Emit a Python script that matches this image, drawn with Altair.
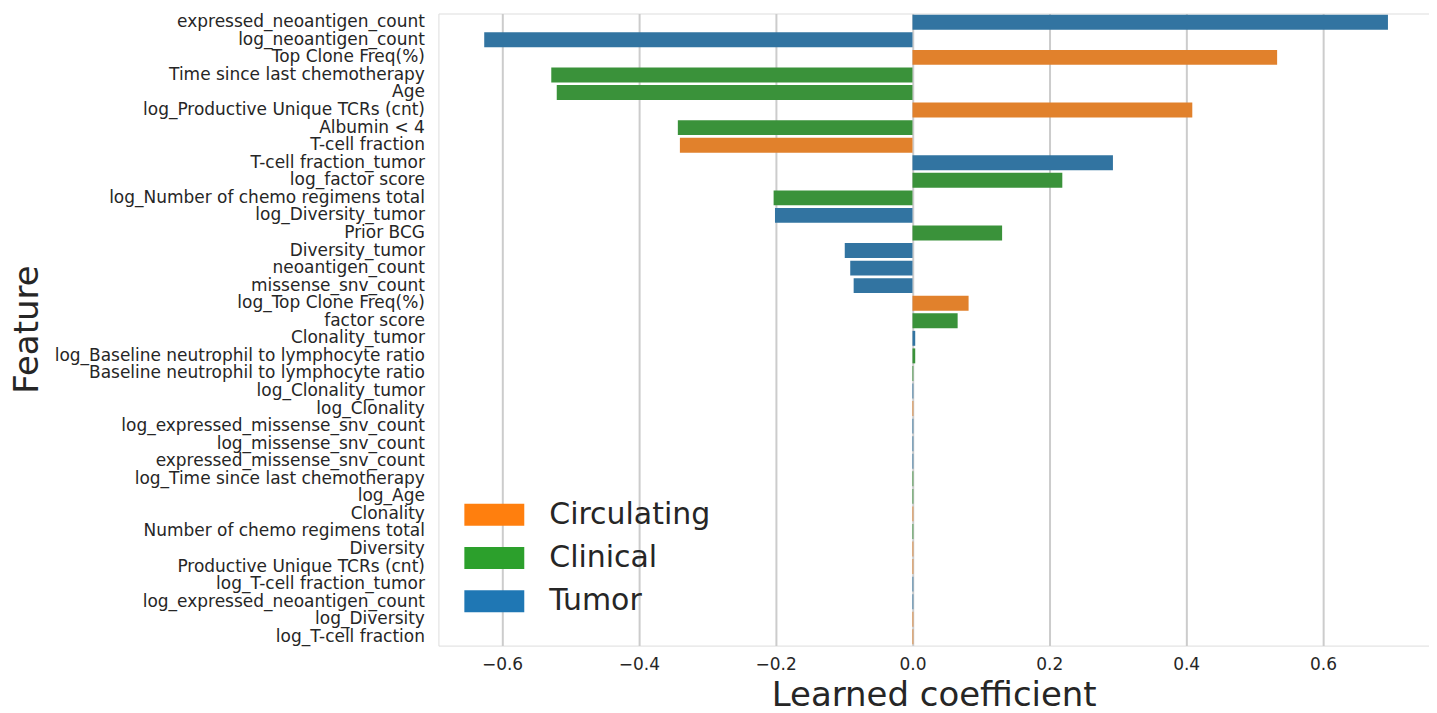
import altair as alt
import pandas as pd

features = [
    "expressed_neoantigen_count", "log_neoantigen_count", "Top Clone Freq(%)",
    "Time since last chemotherapy", "Age", "log_Productive Unique TCRs (cnt)",
    "Albumin < 4", "T-cell fraction", "T-cell fraction_tumor", "log_factor score",
    "log_Number of chemo regimens total", "log_Diversity_tumor", "Prior BCG",
    "Diversity_tumor", "neoantigen_count", "missense_snv_count",
    "log_Top Clone Freq(%)", "factor score", "Clonality_tumor",
    "log_Baseline neutrophil to lymphocyte ratio", "Baseline neutrophil to lymphocyte ratio",
    "log_Clonality_tumor", "log_Clonality", "log_expressed_missense_snv_count",
    "log_missense_snv_count", "expressed_missense_snv_count",
    "log_Time since last chemotherapy", "log_Age", "Clonality",
    "Number of chemo regimens total", "Diversity", "Productive Unique TCRs (cnt)",
    "log_T-cell fraction_tumor", "log_expressed_neoantigen_count", "log_Diversity",
    "log_T-cell fraction",
]
coefficients = [
    0.695, -0.626, 0.533, -0.528, -0.520, 0.409, -0.343, -0.340, 0.293, 0.219,
    -0.203, -0.201, 0.131, -0.099, -0.091, -0.086, 0.082, 0.066, 0.004, 0.004,
    0.0012, 0.0012, 0.0012, 0.0012, 0.0012, 0.0012, 0.0012, 0.0012, 0.0012,
    0.0012, 0.0012, 0.0012, 0.0012, 0.0012, 0.0012, 0.0012,
]
groups = [
    "Tumor", "Tumor", "Circulating", "Clinical", "Clinical", "Circulating",
    "Clinical", "Circulating", "Tumor", "Clinical", "Clinical", "Tumor", "Clinical",
    "Tumor", "Tumor", "Tumor", "Circulating", "Clinical", "Tumor", "Clinical",
    "Clinical", "Tumor", "Circulating", "Tumor", "Tumor", "Tumor", "Clinical",
    "Clinical", "Circulating", "Clinical", "Circulating", "Circulating", "Tumor",
    "Tumor", "Circulating", "Circulating",
]
group_names = ["Circulating", "Clinical", "Tumor"]
bar_colors = ["#e1812c", "#3a923a", "#3274a1"]
legend_colors = ["#ff7f0e", "#2ca02c", "#1f77b4"]
x_ticks = [-0.6, -0.4, -0.2, 0.0, 0.2, 0.4, 0.6]

df = pd.DataFrame({"Feature": features, "Coef": coefficients, "Group": groups})

font = "DejaVu Sans"
text_color = "#262626"

y_enc = alt.Y(
    "Feature:N", sort=features,
    scale=alt.Scale(paddingInner=0.15, paddingOuter=0.075),
    axis=alt.Axis(title="Feature", labelFontSize=17, labelPadding=14, ticks=False,
                  domain=False, grid=False, titleFontSize=34, titleFontWeight="normal",
                  titleX=-411, titleY=316, titleBaseline="middle", titleAngle=270,
                  labelColor=text_color, titleColor=text_color,
                  labelFont=font, titleFont=font, labelLimit=600),
)

bars = alt.Chart(df).mark_bar().encode(
    x=alt.X("Coef:Q",
            scale=alt.Scale(domain=[-0.693, 0.755], nice=False, zero=False),
            axis=alt.Axis(title="Learned coefficient", values=x_ticks, format=".1f",
                          labelFontSize=17, labelPadding=11, ticks=False, domain=False,
                          grid=True, gridColor="#cccccc", gridWidth=2,
                          titleFontSize=34, titleFontWeight="normal", titlePadding=6,
                          labelColor=text_color, titleColor=text_color,
                          labelFont=font, titleFont=font)),
    y=y_enc,
    color=alt.Color("Group:N", scale=alt.Scale(domain=group_names, range=bar_colors),
                    legend=None),
)

legend_layer = alt.Chart(df).mark_bar().encode(
    x=alt.value(0), x2=alt.value(0),
    y=y_enc,
    color=alt.Color("Group:N", scale=alt.Scale(domain=group_names, range=legend_colors),
                    legend=alt.Legend(title=None, orient="none", legendX=36, legendY=482,
                                      labelFontSize=30, labelFont=font, labelColor=text_color,
                                      labelLimit=400,
                                      symbolType="M-1.5,-0.55L1.5,-0.55L1.5,0.55L-1.5,0.55Z",
                                      symbolSize=1600, symbolStrokeWidth=0,
                                      rowPadding=8.3, labelOffset=35)),
)

chart = alt.layer(bars, legend_layer).resolve_scale(color="independent").properties(
    width=992, height=633,
).configure_view(stroke="#cccccc", strokeWidth=2.5).configure(padding={"top": 4, "left": 3, "right": 0, "bottom": 0})

chart.save("out.html", embed_options={"renderer": "svg", "actions": False})
